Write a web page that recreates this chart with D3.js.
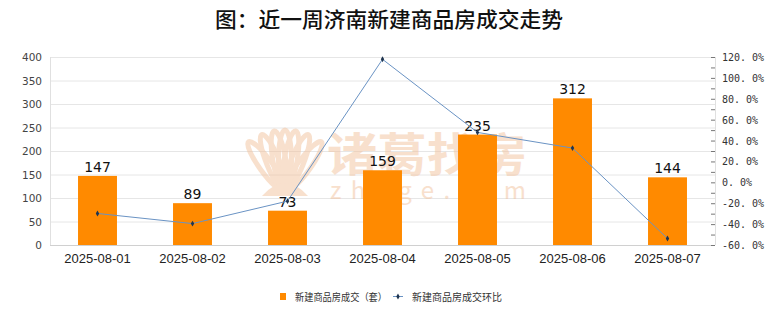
<!DOCTYPE html>
<html>
<head>
<meta charset="utf-8">
<script src="https://cdn.jsdelivr.net/npm/d3@7/dist/d3.min.js"></script>
<style>
  html, body { margin: 0; padding: 0; background: #fff; }
  svg { display: block; font-family: "Noto Sans CJK SC", "DejaVu Sans", sans-serif; }
</style>
</head>
<body>
<svg id="chart" width="780" height="328"></svg>
<script>
// Daily new-home transactions in Jinan for the past week
const dates = ["2025-08-01", "2025-08-02", "2025-08-03", "2025-08-04", "2025-08-05", "2025-08-06", "2025-08-07"];
const deals = [147, 89, 73, 159, 235, 312, 144];
// Day-over-day change, percent
const change = [-29.8, -39.5, -18.0, 117.8, 47.8, 32.8, -53.8];
const leftTicks = [0, 50, 100, 150, 200, 250, 300, 350, 400];
const rightTicks = [-60, -40, -20, 0, 20, 40, 60, 80, 100, 120];

const titleText = "图：近一周济南新建商品房成交走势";
const barName = "新建商品房成交（套）";
const lineName = "新建商品房成交环比";

const svg = d3.select("#chart");
const m = { left: 50, right: 715, top: 57, bottom: 245 };

const x = d3.scaleBand().domain(dates).range([m.left, m.right]).paddingInner(0.59).paddingOuter(0.295);
const y = d3.scaleLinear().domain([0, 400]).range([m.bottom, m.top]);
const y2 = d3.scaleLinear().domain([-60, 120]).range([m.bottom, m.top]);

// Title
svg.append("text")
  .attr("x", 215).attr("y", 27)
  .attr("font-size", 21).attr("font-weight", 500).attr("fill", "#111")
  .attr("textLength", 348).attr("lengthAdjust", "spacingAndGlyphs")
  .text(titleText);

// Gridlines
svg.append("g").selectAll("line").data(leftTicks.slice(1)).join("line")
  .attr("x1", m.left).attr("x2", m.right)
  .attr("y1", d => y(d) + 0.5).attr("y2", d => y(d) + 0.5)
  .attr("stroke", "#e6e6e6").attr("stroke-width", 1);

// Left / right frame lines
svg.append("line").attr("x1", m.left + 0.5).attr("x2", m.left + 0.5)
  .attr("y1", m.top).attr("y2", m.bottom).attr("stroke", "#e0e0e0");
svg.append("line").attr("x1", m.right + 0.5).attr("x2", m.right + 0.5)
  .attr("y1", m.top).attr("y2", m.bottom).attr("stroke", "#e0e0e0");

// Watermark
const wm = svg.append("g").attr("opacity", 0.5);
const wmColor = "#f2c29c";
const petals = [-36, -22, -10, 0, 10, 22, 36];
petals.forEach(a => {
  wm.append("ellipse")
    .attr("cx", 0).attr("cy", -22)
    .attr("rx", 6.5).attr("ry", 30)
    .attr("fill", "none").attr("stroke", wmColor).attr("stroke-width", 5)
    .attr("transform", `translate(285,182) rotate(${a},0,10)`);
});
wm.append("path")
  .attr("d", "M262,196 Q285,170 308,196 Z")
  .attr("fill", wmColor);
wm.append("text").attr("x", 327).attr("y", 171)
  .attr("font-size", 46).attr("fill", wmColor).attr("font-weight", "bold")
  .attr("textLength", 200).attr("lengthAdjust", "spacingAndGlyphs")
  .text("诸葛找房");
wm.append("text").attr("x", 330).attr("y", 199)
  .attr("font-size", 24).attr("fill", wmColor)
  .attr("textLength", 196).attr("lengthAdjust", "spacing")
  .text("zhuge.com");

// Bars
svg.append("g").selectAll("rect").data(dates).join("rect")
  .attr("x", d => x(d)).attr("width", x.bandwidth())
  .attr("y", (d, i) => y(deals[i])).attr("height", (d, i) => y(0) - y(deals[i]))
  .attr("fill", "#ff8a00");

// Bar value labels
svg.append("g").selectAll("text").data(dates).join("text")
  .attr("x", d => x(d) + x.bandwidth() / 2)
  .attr("y", (d, i) => y(deals[i]) - 4)
  .attr("text-anchor", "middle")
  .attr("font-family", "DejaVu Sans, sans-serif")
  .attr("font-size", 14).attr("fill", "#111")
  .text((d, i) => deals[i]);

// Bottom axis line
svg.append("line").attr("x1", m.left).attr("x2", m.right)
  .attr("y1", m.bottom + 0.5).attr("y2", m.bottom + 0.5).attr("stroke", "#d0d0d0");

// Change line
const cx = d => x(d) + x.bandwidth() / 2;
svg.append("path")
  .datum(dates)
  .attr("d", d3.line().x(d => cx(d)).y((d, i) => y2(change[i])))
  .attr("fill", "none").attr("stroke", "#6a93c4").attr("stroke-width", 1);
svg.append("g").selectAll("path").data(dates).join("path")
  .attr("d", d3.symbol(d3.symbolDiamond, 10))
  .attr("transform", (d, i) => `translate(${cx(d)},${y2(change[i])})`)
  .attr("fill", "#1f3550");

// Left axis labels
svg.append("g").selectAll("text").data(leftTicks).join("text")
  .attr("x", 42).attr("y", d => y(d) + 4)
  .attr("text-anchor", "end")
  .attr("font-family", "DejaVu Sans, sans-serif")
  .attr("font-size", 10.5).attr("fill", "#444")
  .text(d => d);

// Right axis ticks (every 10%) and labels
svg.append("g").selectAll("line").data(d3.range(-60, 121, 10)).join("line")
  .attr("x1", m.right - 4).attr("x2", m.right)
  .attr("y1", d => y2(d) + 0.5).attr("y2", d => y2(d) + 0.5)
  .attr("stroke", "#777");
svg.append("g").selectAll("text").data(rightTicks).join("text")
  .attr("x", 722).attr("y", d => y2(d) + 4)
  .attr("font-family", "DejaVu Sans Mono, monospace")
  .attr("font-size", 10).attr("fill", "#333")
  .text(d => d3.format(".1f")(d).replace("−", "-").replace(".", ". ") + "%");

// Category labels
svg.append("g").selectAll("text").data(dates).join("text")
  .attr("x", d => cx(d)).attr("y", 263)
  .attr("text-anchor", "middle")
  .attr("font-family", "Liberation Sans Narrow, Liberation Sans, sans-serif")
  .attr("font-size", 13).attr("fill", "#222")
  .text(d => d);

// Legend
const lg = svg.append("g").attr("font-size", 10).attr("fill", "#333");
lg.append("rect").attr("x", 280).attr("y", 293).attr("width", 6).attr("height", 7).attr("fill", "#ff8a00");
lg.append("text").attr("x", 295).attr("y", 301)
  .attr("textLength", 92).attr("lengthAdjust", "spacingAndGlyphs").text(barName);
lg.append("line").attr("x1", 393).attr("x2", 403).attr("y1", 296.5).attr("y2", 296.5).attr("stroke", "#6a93c4");
lg.append("path").attr("d", d3.symbol(d3.symbolDiamond, 10)).attr("transform", "translate(398,296.5)").attr("fill", "#1f3550");
lg.append("text").attr("x", 412).attr("y", 301)
  .attr("textLength", 90).attr("lengthAdjust", "spacingAndGlyphs").text(lineName);
</script>
</body>
</html>
